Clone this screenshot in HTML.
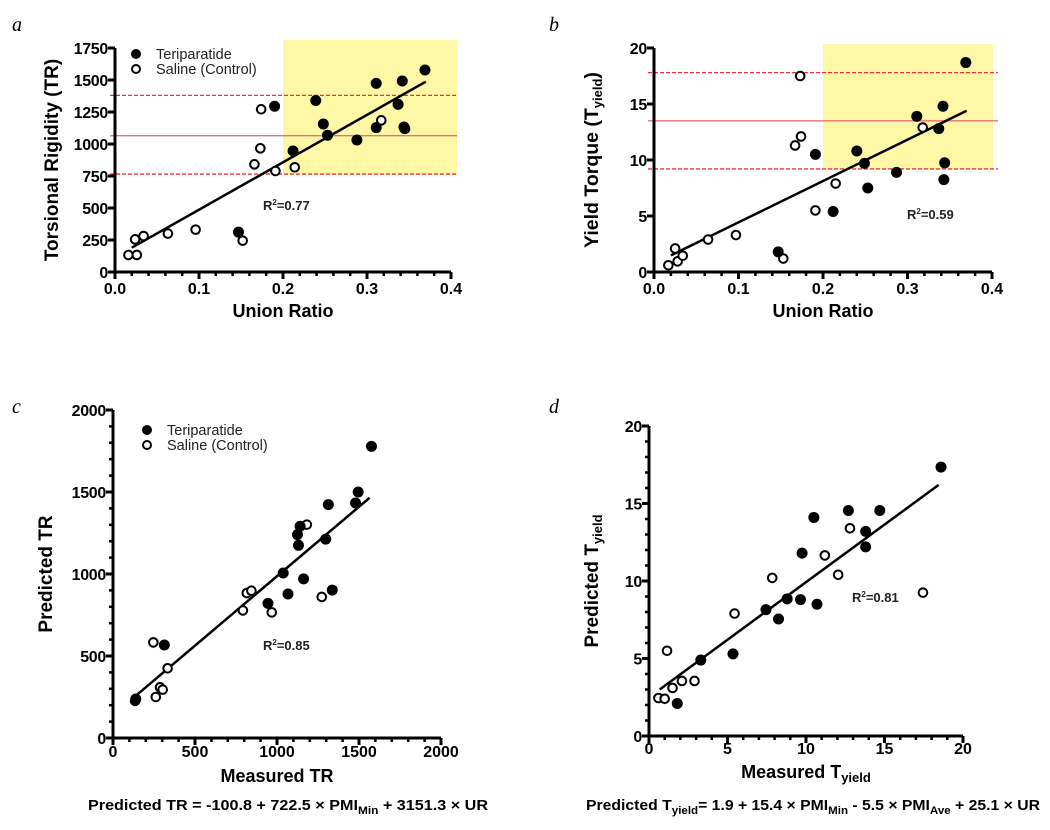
<!DOCTYPE html>
<html><head><meta charset="utf-8"><style>
html,body{margin:0;padding:0;background:#fff;}
svg{display:block;font-family:"Liberation Sans",sans-serif;}
</style></head><body>
<svg id="fig" width="1050" height="830" viewBox="0 0 1050 830">
<text x="12" y="31" font-family="Liberation Serif" font-style="italic" font-size="20">a</text>
<text x="549" y="31" font-family="Liberation Serif" font-style="italic" font-size="20">b</text>
<text x="12" y="413" font-family="Liberation Serif" font-style="italic" font-size="20">c</text>
<text x="549" y="413" font-family="Liberation Serif" font-style="italic" font-size="20">d</text>
<text x="88" y="810" font-size="15" font-weight="bold" textLength="400" lengthAdjust="spacingAndGlyphs">Predicted TR = -100.8 + 722.5 × PMI<tspan font-size="11" dy="4">Min</tspan><tspan dy="-4"> + 3151.3 × UR</tspan></text>
<text x="586" y="810" font-size="15" font-weight="bold" textLength="454" lengthAdjust="spacingAndGlyphs">Predicted T<tspan font-size="11" dy="4">yield</tspan><tspan dy="-4">= 1.9 + 15.4 × PMI</tspan><tspan font-size="11" dy="4">Min</tspan><tspan dy="-4"> - 5.5 × PMI</tspan><tspan font-size="11" dy="4">Ave</tspan><tspan dy="-4"> + 25.1 × UR</tspan></text>
</svg>
<script>
// Panel a
const aTeriX=[0.19,0.239,0.248,0.253,0.212,0.288,0.311,0.311,0.342,0.337,0.344,0.345,0.369,0.147];
const aTeriY=[1295,1340,1156,1068,945,1031,1474,1128,1492,1310,1133,1120,1578,312];
const aSalX=[0.016,0.026,0.024,0.034,0.063,0.096,0.152,0.166,0.173,0.174,0.191,0.214,0.317];
const aSalY=[133,133,255,281,300,331,245,841,966,1271,789,818,1185];
const aFit=[[0.02,190],[0.37,1487]];
const aRef=[1380,1065,765];
const aYTicks=[0,250,500,750,1000,1250,1500,1750];
const aXTicks=[0.0,0.1,0.2,0.3,0.4];
// Panel b
const bTeriX=[0.369,0.342,0.311,0.337,0.240,0.191,0.249,0.344,0.287,0.343,0.253,0.212,0.147];
const bTeriY=[18.7,14.8,13.9,12.8,10.8,10.5,9.7,9.75,8.9,8.25,7.5,5.4,1.8];
const bSalX=[0.173,0.174,0.167,0.215,0.191,0.318,0.097,0.064,0.025,0.028,0.034,0.017,0.153];
const bSalY=[17.5,12.1,11.3,7.9,5.5,12.9,3.3,2.9,2.1,0.95,1.45,0.6,1.2];
const bFit=[[0.02,1.48],[0.37,14.4]];
const bRef=[17.8,13.5,9.2];
const bYTicks=[0,5,10,15,20];
const bXTicks=[0.0,0.1,0.2,0.3,0.4];
// Panel c
const cTeriX=[1576,1495,1479,1313,1297,1141,1125,1131,1038,1162,1067,1337,945,313,139];
const cTeriY=[1778,1500,1433,1423,1213,1291,1240,1175,1006,970,878,902,821,567,238];
const cSalX=[246,333,287,303,261,135,792,816,844,968,1182,1273];
const cSalY=[583,425,309,295,250,226,778,884,898,766,1301,860];
const cFit=[[135,254],[1565,1465]];
const cYTicks=[0,500,1000,1500,2000];
const cXTicks=[0,500,1000,1500,2000];
// Panel d
const dTeriX=[18.6,14.7,12.7,10.5,13.8,13.8,9.75,8.8,9.65,10.7,7.45,8.25,5.35,3.3,1.8];
const dTeriY=[17.35,14.55,14.55,14.1,13.2,12.2,11.8,8.85,8.8,8.5,8.15,7.55,5.3,4.9,2.1];
const dSalX=[17.45,12.8,11.2,12.05,7.85,5.45,1.15,2.1,2.9,1.5,0.6,1.0];
const dSalY=[9.25,13.4,11.65,10.4,10.2,7.9,5.5,3.55,3.55,3.1,2.45,2.4];
const dFit=[[0.68,3.0],[18.45,16.2]];
const dYTicks=[0,5,10,15,20];
const dXTicks=[0,5,10,15,20];

const NS='http://www.w3.org/2000/svg';
const svg=document.getElementById('fig');
function mk(tag,attrs,parent){const e=document.createElementNS(NS,tag);for(const k in attrs)e.setAttribute(k,attrs[k]);(parent||svg).appendChild(e);return e;}
function fmt(v,dec){return dec?v.toFixed(dec):String(v);}

function panel(o){
  const g=mk('g',{});
  
  
  const sx=v=>o.x0+(v-o.xmin)/(o.xmax-o.xmin)*(o.x1-o.x0);
  const sy=v=>o.y0-(v-o.ymin)/(o.ymax-o.ymin)*(o.y0-o.y1);
  if(o.box){
    const r=mk('rect',{x:sx(o.box[0]),y:o.box[2],width:o.box[1]-sx(o.box[0]),height:sy(o.box[3])-o.box[2],fill:'#fdf7a6'},g);
    
    
  }
  if(o.ref){o.ref.forEach((v,i)=>{
    const l=mk('line',{x1:o.refX[0],x2:o.refX[1],y1:sy(v),y2:sy(v),stroke:i==1?'#e8707a':'#f0303c','stroke-width':1.3},g);
    if(i!=1)l.setAttribute('stroke-dasharray','4,2');
    
    
  });}
  const ax=mk('path',{d:`M${o.x0},${o.y1} V${o.y0} H${o.x1}`,stroke:'#000','stroke-width':3,fill:'none'},g);
  
  
  if(o.xMinor){for(let v=o.xmin;v<=o.xmax+1e-9;v+=o.xMinor){mk('line',{x1:sx(v),x2:sx(v),y1:o.y0,y2:o.y0+4,stroke:'#000','stroke-width':2.5},g);}}
  if(o.yMinor){for(let v=o.ymin;v<=o.ymax+1e-9;v+=o.yMinor){mk('line',{x1:o.x0-4,x2:o.x0,y1:sy(v),y2:sy(v),stroke:'#000','stroke-width':2.5},g);}}
  o.xt.forEach(v=>{
    mk('line',{x1:sx(v),x2:sx(v),y1:o.y0,y2:o.y0+7,stroke:'#000','stroke-width':3},g);
    const t=mk('text',{x:sx(v),y:o.y0+o.xtOff,'text-anchor':'middle','font-size':16,'font-weight':'bold'},g);
    t.textContent=fmt(v,o.xdec);
    
    
  });
  o.yt.forEach(v=>{
    mk('line',{x1:o.x0-7,x2:o.x0,y1:sy(v),y2:sy(v),stroke:'#000','stroke-width':3},g);
    const t=mk('text',{x:o.x0-7,y:sy(v)+6,'text-anchor':'end','font-size':16,'font-weight':'bold','letter-spacing':'-0.3'},g);
    t.textContent=fmt(v,0);
    
    
  });
  const f=mk('line',{x1:sx(o.fit[0][0]),y1:sy(o.fit[0][1]),x2:sx(o.fit[1][0]),y2:sy(o.fit[1][1]),stroke:'#000','stroke-width':2.5},g);
  
  
  o.sx.forEach((v,i)=>{
    const c=mk('circle',{cx:sx(v),cy:sy(o.sy[i]),r:4.3,fill:'#fff',stroke:'#000','stroke-width':2},g);
    
    
  });
  o.tx.forEach((v,i)=>{
    const c=mk('circle',{cx:sx(v),cy:sy(o.ty[i]),r:5.5,fill:'#000'},g);
    
    
  });
  const r2=mk('text',{x:o.r2[0],y:o.r2[1],'font-size':13,'font-weight':'bold',fill:'#222'},g);
  r2.innerHTML='R<tspan font-size="8" dy="-5">2</tspan><tspan dy="5">='+o.r2[2]+'</tspan>';
  
  
  const xl=mk('text',{x:(o.x0+o.x1)/2,y:o.y0+o.xlOff,'text-anchor':'middle','font-size':18,'font-weight':'bold'},g);
  xl.innerHTML=o.xl;
  
  
  const yl=mk('text',{x:0,y:0,'text-anchor':'middle','font-size':o.ylfs,'font-weight':'bold',transform:`translate(${o.ylx},${(o.y0+o.y1)/2}) rotate(-90)`},g);
  yl.innerHTML=o.yl;
  
  
  if(o.leg){
    const lg=mk('g',{},g);
    
    
    mk('circle',{cx:o.leg[0],cy:o.leg[1],r:5,fill:'#000'},lg);
    mk('circle',{cx:o.leg[0],cy:o.leg[1]+15,r:4,fill:'#fff',stroke:'#000','stroke-width':2},lg);
    const t1=mk('text',{x:o.leg[0]+20,y:o.leg[1]+5,'font-size':14.5,fill:'#222'},lg);t1.textContent='Teriparatide';
    
    
    const t2=mk('text',{x:o.leg[0]+20,y:o.leg[1]+20,'font-size':14.5,fill:'#222'},lg);t2.textContent='Saline (Control)';
    
    
  }
}
panel({name:'panel-a',x0:115,x1:451,y0:272,y1:48,xmin:0,xmax:0.4,ymin:0,ymax:1750,xt:aXTicks,yt:aYTicks,xdec:1,xMinor:0.02,
  tx:aTeriX,ty:aTeriY,sx:aSalX,sy:aSalY,fit:aFit,ref:aRef,refX:[110,457],box:[0.2,457,40,760],
  r2:[263,210,'0.77'],xl:'Union Ratio',yl:'Torsional Rigidity (TR)',ylx:58,ylfs:19,leg:[136,54],xtOff:22,xlOff:45});
panel({name:'panel-b',x0:654,x1:992,y0:272,y1:48,xmin:0,xmax:0.4,ymin:0,ymax:20,xt:bXTicks,yt:bYTicks,xdec:1,xMinor:0.02,
  tx:bTeriX,ty:bTeriY,sx:bSalX,sy:bSalY,fit:bFit,ref:bRef,refX:[648,998],box:[0.2,993,44,9.2],
  r2:[907,219,'0.59'],xl:'Union Ratio',yl:'Yield Torque (T<tspan font-size="13" dy="4">yield</tspan><tspan dy="-4">)</tspan>',ylx:598,ylfs:19.5,xtOff:22,xlOff:45});
panel({name:'panel-c',x0:113,x1:441,y0:738,y1:410,xmin:0,xmax:2000,ymin:0,ymax:2000,xt:cXTicks,yt:cYTicks,xMinor:100,yMinor:100,
  tx:cTeriX,ty:cTeriY,sx:cSalX,sy:cSalY,fit:cFit,
  r2:[263,650,'0.85'],xl:'Measured TR',yl:'Predicted TR',ylx:52,ylfs:19,leg:[147,430],xtOff:19,xlOff:44});
panel({name:'panel-d',x0:649,x1:963,y0:736,y1:426,xmin:0,xmax:20,ymin:0,ymax:20,xt:dXTicks,yt:dYTicks,xMinor:1,yMinor:1,
  tx:dTeriX,ty:dTeriY,sx:dSalX,sy:dSalY,fit:dFit,
  r2:[852,602,'0.81'],xl:'Measured T<tspan font-size="13" dy="4">yield</tspan>',yl:'Predicted T<tspan font-size="13" dy="4">yield</tspan>',ylx:598,ylfs:19,xtOff:18,xlOff:42});
</script>
</body></html>
